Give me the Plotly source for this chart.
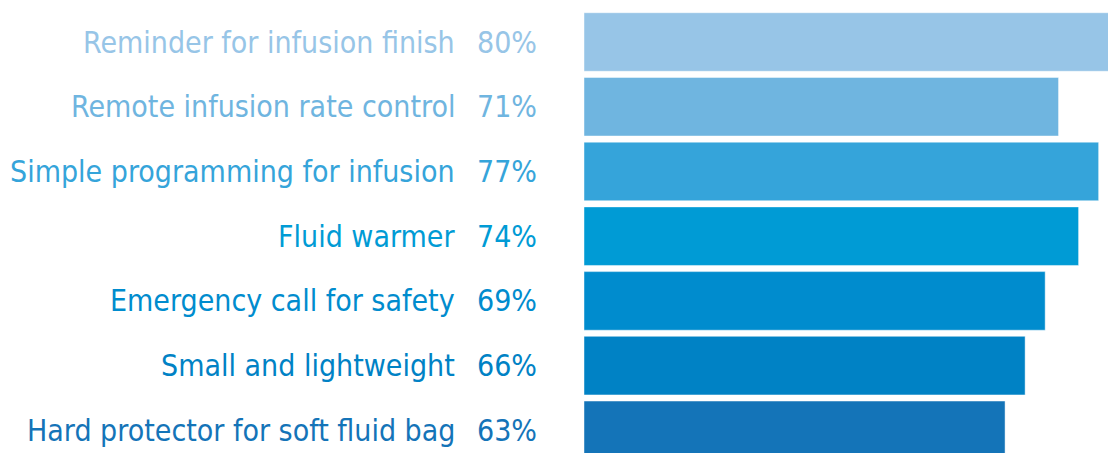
import plotly.graph_objects as go

# Share of respondents rating each infusion-pump feature as desirable
features = [
    "Reminder for infusion finish",
    "Remote infusion rate control",
    "Simple programming for infusion",
    "Fluid warmer",
    "Emergency call for safety",
    "Small and lightweight",
    "Hard protector for soft fluid bag",
]
shares = [80, 71, 77, 74, 69, 66, 63]
colors = ["#97C5E7", "#6FB5E0", "#35A4DA", "#009BD5", "#008CCE", "#0082C5", "#1474B8"]

W, H = 1108, 453
LEFT = 584  # left margin reserved for the text columns

fig = go.Figure(
    go.Bar(
        x=shares,
        y=features,
        orientation="h",
        marker=dict(color=colors, line=dict(color="rgba(255,255,255,0.45)", width=1)),
        hoverinfo="skip",
    )
)

font_family = "DejaVu Sans Condensed, DejaVu Sans, sans-serif"
for name, val, col in zip(features, shares, colors):
    fig.add_annotation(
        x=0, xref="paper", y=name, yref="y",
        text=name, showarrow=False, xanchor="right", yanchor="middle",
        xshift=-(LEFT - 457), font=dict(family=font_family, size=30, color=col),
    )
    fig.add_annotation(
        x=0, xref="paper", y=name, yref="y",
        text=f"{val}%", showarrow=False, xanchor="right", yanchor="middle",
        xshift=-(LEFT - 539), font=dict(family=font_family, size=30, color=col),
    )

fig.update_layout(
    width=W, height=H,
    margin=dict(l=LEFT, r=0, t=0, b=0),
    paper_bgcolor="white", plot_bgcolor="white",
    bargap=0.095,
    showlegend=False,
    xaxis=dict(range=[0, 78.4], visible=False, fixedrange=True),
    yaxis=dict(
        categoryorder="array", categoryarray=features,
        range=[6.35, -0.649], visible=False, fixedrange=True,
    ),
)

fig.write_html("out.html", config={"displayModeBar": False})
